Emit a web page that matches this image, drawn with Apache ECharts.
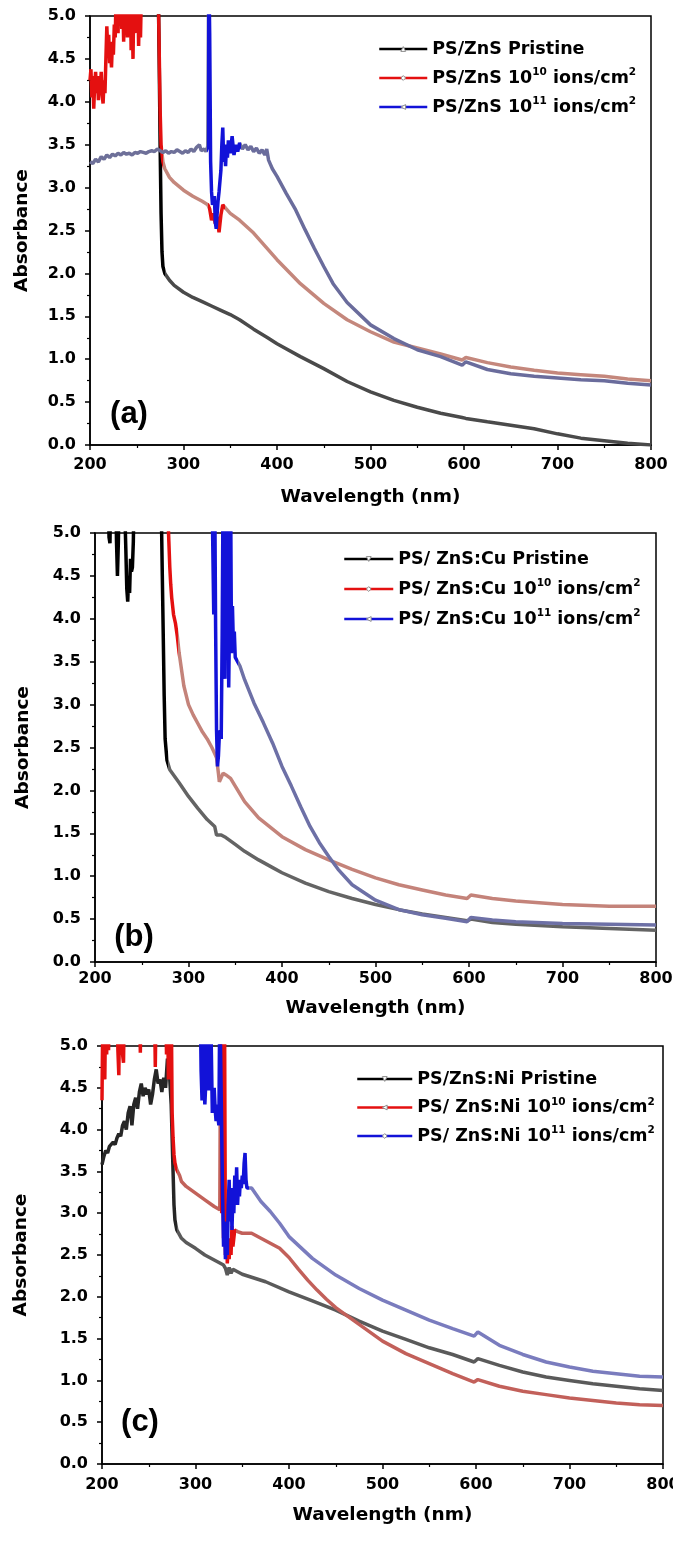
<!DOCTYPE html>
<html><head><meta charset="utf-8">
<script src="https://cdn.jsdelivr.net/npm/echarts@6/dist/echarts.min.js"></script>
<style>html,body{margin:0;padding:0;background:#fff}#c{width:673px;height:1546px}</style>
</head><body><div id="c"></div>
<script>
// ---------------- DATA ----------------
const panelTags = ['(a)', '(b)', '(c)'];
const xTicks = [200, 300, 400, 500, 600, 700, 800];
const yTicks = [0.0, 0.5, 1.0, 1.5, 2.0, 2.5, 3.0, 3.5, 4.0, 4.5, 5.0];

const namesA = ['PS/ZnS Pristine', 'PS/ZnS 10^{10} ions/cm^{2}', 'PS/ZnS 10^{11} ions/cm^{2}'];
const namesB = ['PS/ ZnS:Cu Pristine', 'PS/ ZnS:Cu 10^{10} ions/cm^{2}', 'PS/ ZnS:Cu 10^{11} ions/cm^{2}'];
const namesC = ['PS/ZnS:Ni Pristine', 'PS/ ZnS:Ni 10^{10} ions/cm^{2}', 'PS/ ZnS:Ni 10^{11} ions/cm^{2}'];

// Panel (a)  [wavelength nm, absorbance]
const aPristine = [[270,5.6],[273,5.3],[274,4.5],[275,3.5],[276,2.7],[277,2.25],[278,2.08],[280,2.0],[285,1.92],[290,1.86],
 [300,1.78],[310,1.72],[320,1.67],[330,1.62],[340,1.57],[350,1.52],[360,1.46],[375,1.35],[390,1.25],[400,1.18],
 [425,1.03],[450,0.89],[475,0.74],[500,0.62],[525,0.52],[550,0.44],[575,0.37],[598,0.32],[602,0.31],[625,0.27],
 [650,0.23],[675,0.19],[700,0.13],[725,0.08],[750,0.05],[775,0.02],[800,0.0]];
const aIon10 = [[200,4.25],[201,4.38],[202,4.05],[203,4.3],[204,3.92],[205,4.2],[206,4.35],[207,4.1],[208,4.3],[209,4.02],
 [210,4.28],[211,4.15],[212,4.35],[213,4.08],[214,3.98],[215,4.25],[216,4.1],[217,4.5],[218,4.88],[219,4.6],
 [220,4.78],[221,4.45],[222,4.6],[223,4.4],[224,4.7],[225,4.55],[226,4.9],[227,4.75],[228,5.3],[229,5.2],
 [230,4.8],[231,5.3],[232,4.95],[233,5.4],[234,4.85],[235,5.2],[236,4.7],[237,5.3],[238,4.95],[239,5.1],
 [240,4.75],[241,5.3],[242,4.9],[243,5.4],[244,4.6],[245,5.2],[246,4.5],[247,5.3],[248,4.8],[249,5.2],
 [250,4.95],[251,5.4],[252,4.65],[253,5.2],[254,4.75],[255,5.3],[256,5.6],[260,5.6],[272,5.6],[273,5.3],
 [274,4.6],[275,3.9],[276,3.5],[278,3.3],[280,3.22],[285,3.12],[290,3.06],[300,2.97],[310,2.9],[320,2.84],
 [326,2.8],[328,2.75],[330,2.62],[332,2.7],[334,2.58],[336,2.66],[338,2.48],[340,2.68],[342,2.8],[345,2.76],
 [350,2.7],[360,2.62],[375,2.47],[400,2.16],[425,1.88],[450,1.65],[475,1.46],[500,1.32],[525,1.2],[550,1.13],
 [575,1.06],[598,0.99],[602,1.02],[625,0.96],[650,0.91],[675,0.87],[700,0.84],[725,0.82],[750,0.8],[775,0.77],[800,0.75]];
const aIon11 = [[200,3.3],[203,3.28],[206,3.33],[209,3.3],[212,3.36],[215,3.33],[218,3.38],[221,3.35],[224,3.39],[227,3.37],
 [230,3.4],[233,3.38],[236,3.41],[239,3.39],[242,3.4],[245,3.38],[248,3.41],[251,3.4],[254,3.42],[257,3.41],
 [260,3.4],[263,3.42],[266,3.43],[269,3.42],[272,3.45],[275,3.43],[278,3.41],[281,3.43],[284,3.4],[287,3.42],
 [290,3.41],[293,3.44],[296,3.42],[299,3.4],[302,3.43],[305,3.41],[308,3.45],[311,3.42],[314,3.47],[317,3.5],
 [319,3.43],[322,3.45],[324,3.42],[326,3.48],[327,5.6],[328,4.8],[329,3.3],[330,2.95],[331,2.8],[333,2.9],
 [334,2.6],[335,2.52],[336,2.7],[337,2.85],[338,2.95],[340,3.2],[341,3.5],[342,3.7],[343,3.3],[344,3.45],
 [345,3.25],[346,3.5],[347,3.35],[348,3.55],[350,3.4],[352,3.6],[354,3.38],[356,3.5],[358,3.42],[360,3.52],
 [363,3.45],[366,3.5],[369,3.44],[372,3.48],[375,3.42],[378,3.46],[381,3.4],[384,3.44],[387,3.38],[389,3.45],
 [391,3.32],[395,3.22],[400,3.13],[410,2.93],[420,2.74],[430,2.51],[440,2.29],[450,2.08],[460,1.88],[475,1.66],
 [500,1.4],[525,1.24],[550,1.11],[575,1.03],[598,0.93],[602,0.97],[625,0.88],[650,0.83],[675,0.8],[700,0.78],
 [725,0.76],[750,0.75],[775,0.72],[800,0.7]];

// Panel (b)
const bPristine = [[210,5.6],[214,5.6],[215,4.95],[216,4.88],[217,5.6],[222,5.6],[223,4.9],[224,4.5],[225,4.9],[226,5.6],
 [231,5.6],[233,4.8],[234,4.35],[235,4.2],[236,4.5],[237,4.3],[238,4.7],[239,4.55],[240,4.6],[241,4.9],
 [242,5.6],[270,5.6],[271,5.2],[272,4.5],[273,3.8],[274,3.1],[275,2.6],[277,2.35],[280,2.24],[290,2.09],
 [300,1.93],[310,1.79],[320,1.66],[328,1.58],[330,1.48],[332,1.5],[335,1.48],[340,1.45],[350,1.37],[360,1.29],
 [375,1.19],[390,1.1],[400,1.04],[425,0.92],[450,0.82],[475,0.74],[500,0.67],[525,0.61],[550,0.56],[575,0.52],
 [598,0.48],[602,0.5],[625,0.46],[650,0.44],[700,0.41],[750,0.39],[800,0.37]];
const bIon10 = [[276,5.6],[278,5.2],[279,4.9],[280,4.6],[281,4.4],[282,4.25],[283,4.15],[284,4.05],[285,4.0],[286,3.95],
 [288,3.8],[290,3.6],[295,3.22],[300,3.0],[305,2.88],[310,2.78],[315,2.68],[320,2.6],[325,2.5],[328,2.43],
 [330,2.38],[332,2.2],[333,2.1],[335,2.15],[337,2.2],[340,2.18],[342,2.2],[345,2.14],[350,2.05],[360,1.87],
 [375,1.68],[400,1.46],[425,1.31],[450,1.19],[475,1.08],[500,0.98],[525,0.9],[550,0.84],[575,0.78],[598,0.74],
 [602,0.78],[625,0.74],[650,0.71],[700,0.67],[750,0.65],[800,0.65]];
const bIon11 = [[325,5.6],[326,5.6],[327,4.05],[328,5.6],[329,3.9],[330,2.7],[331,2.28],[332,2.4],[333,2.65],[334,2.7],
 [335,2.6],[336,3.8],[337,5.6],[338,4.5],[339,3.3],[340,5.6],[341,3.9],[342,5.6],[343,3.2],[344,4.1],
 [345,5.6],[346,3.6],[347,4.15],[348,3.7],[349,3.85],[350,3.55],[352,3.55],[355,3.45],[360,3.29],[370,3.02],
 [380,2.79],[390,2.55],[400,2.28],[410,2.05],[420,1.81],[430,1.58],[440,1.39],[450,1.23],[460,1.08],[475,0.9],
 [500,0.72],[525,0.61],[550,0.55],[575,0.51],[598,0.47],[602,0.52],[625,0.49],[650,0.47],[700,0.45],[750,0.44],[800,0.43]];

// Panel (c)
const cPristine = [[200,3.58],[202,3.68],[204,3.75],[206,3.72],[208,3.8],[210,3.78],[212,3.85],[214,3.82],[216,3.9],[218,3.95],
 [220,3.92],[222,4.05],[224,4.1],[226,4.0],[228,4.2],[230,4.28],[232,4.05],[234,4.3],[236,4.38],[238,4.25],
 [240,4.45],[242,4.55],[244,4.4],[246,4.5],[248,4.42],[250,4.48],[252,4.3],[254,4.42],[256,4.6],[258,4.72],
 [260,4.55],[262,4.6],[264,4.45],[266,4.62],[268,4.5],[270,4.85],[272,4.7],[274,4.3],[275,3.9],[276,3.5],
 [277,3.1],[278,2.92],[280,2.8],[285,2.7],[290,2.65],[300,2.58],[310,2.5],[320,2.44],[330,2.38],[332,2.34],
 [334,2.26],[336,2.35],[338,2.28],[340,2.33],[345,2.3],[350,2.27],[375,2.18],[400,2.06],[425,1.95],[450,1.84],
 [475,1.71],[500,1.59],[525,1.49],[550,1.39],[575,1.31],[598,1.22],[602,1.26],[625,1.18],[650,1.1],[675,1.04],
 [700,1.0],[725,0.96],[750,0.93],[775,0.9],[800,0.88]];
const cIon10 = [[200,4.35],[201,5.6],[202,4.8],[203,4.6],[204,5.6],[205,4.9],[206,5.6],[207,4.95],[208,5.6],[216,5.6],
 [217,4.95],[218,4.65],[219,5.6],[221,5.6],[222,4.9],[223,4.8],[224,5.6],[240,5.6],[241,4.92],[242,5.6],
 [256,5.6],[257,4.75],[258,5.6],[268,5.6],[269,4.9],[270,5.6],[271,4.6],[272,5.6],[273,4.8],[274,5.6],
 [275,4.2],[276,3.9],[277,3.7],[278,3.6],[280,3.52],[283,3.45],[285,3.38],[290,3.32],[300,3.24],[310,3.16],
 [320,3.08],[326,3.04],[327,5.6],[328,3.0],[329,5.6],[330,2.7],[331,5.6],[332,2.5],[333,2.9],[334,2.4],
 [335,2.6],[336,2.45],[337,2.7],[338,2.5],[339,2.85],[340,2.6],[342,2.8],[345,2.78],[350,2.76],[360,2.76],
 [370,2.7],[380,2.64],[390,2.58],[400,2.47],[410,2.33],[420,2.2],[430,2.08],[440,1.97],[450,1.87],[460,1.79],
 [475,1.67],[500,1.47],[525,1.32],[550,1.2],[575,1.08],[598,0.98],[602,1.01],[625,0.93],[650,0.87],[675,0.83],
 [700,0.79],[725,0.76],[750,0.73],[775,0.71],[800,0.7]];
const cIon11 = [[300,5.6],[305,5.6],[306,4.7],[307,4.35],[308,5.6],[309,4.6],[310,4.3],[311,4.55],[312,5.6],[313,4.9],
 [314,4.47],[315,4.6],[316,5.6],[317,4.9],[318,4.2],[319,4.4],[320,4.5],[321,4.25],[322,4.1],[323,4.3],
 [324,4.15],[325,4.05],[326,5.6],[328,5.6],[329,3.2],[330,2.6],[331,2.9],[332,2.45],[333,2.7],[334,2.5],
 [335,3.1],[336,3.4],[337,2.9],[338,3.3],[339,2.8],[340,3.2],[341,3.0],[342,3.45],[343,3.2],[344,3.55],
 [345,3.1],[346,3.35],[347,3.2],[348,3.4],[349,3.3],[350,3.45],[351,3.35],[352,3.6],[353,3.72],[354,3.4],
 [355,3.3],[357,3.28],[360,3.3],[370,3.14],[380,3.02],[390,2.88],[400,2.72],[425,2.46],[450,2.26],[475,2.1],
 [500,1.96],[525,1.84],[550,1.72],[575,1.62],[598,1.53],[602,1.58],[625,1.42],[650,1.31],[675,1.22],[700,1.16],
 [725,1.11],[750,1.08],[775,1.05],[800,1.04]];

// ---------------- STYLE / LAYOUT ----------------
const FONT = 'DejaVu Sans';
const SAT = {k: '#000000', r: '#e41010', b: '#1212d8'};
const grids = [
  {left: 90, top: 16, width: 561, height: 429},
  {left: 95, top: 533, width: 561, height: 429},
  {left: 102, top: 1046, width: 561, height: 418}
];
const xLabelMargin = [12, 9, 13];
const xNameGap = [43, 37, 42];
const yNameGap = [58, 62, 71];
const legendPos = [
  {left: 378, top: 40, itemWidth: 48, itemGap: 9},
  {left: 343, top: 550, itemWidth: 49, itemGap: 10},
  {left: 356, top: 1070, itemWidth: 55, itemGap: 8.5}
];
const tagPos = [[129, 414], [134, 937], [140, 1422]];

// colour bands along wavelength: [upper wavelength bound, colour]
const bands = [
  [[280, SAT.k], [800, '#4a4a4a']],
  [[278, SAT.r], [326, '#c4877c'], [344, SAT.r], [800, '#c4877c']],
  [[325, '#6e7099'], [362, SAT.b], [800, '#6a6c9c']],
  [[278, SAT.k], [800, '#646464']],
  [[289, SAT.r], [800, '#c4837a']],
  [[353, SAT.b], [800, '#6d70a6']],
  [[280, '#262626'], [800, '#5a5a5a']],
  [[280, SAT.r], [326, '#c2625a'], [343, SAT.r], [800, '#c2605a']],
  [[357, SAT.b], [800, '#7a7cbe']]
];

const TRI_LEFT = 'path://M10,0L0,5L10,10Z';
const TRI_DOWN = 'path://M0,0L10,0L5,10Z';
const legendColors = [SAT.k, SAT.r, SAT.b];
const LW = 3.5;

function richName(n) {
  return n.split(/\^\{(.*?)\}/).map((p, i) => p === '' ? '' : (i % 2 ? '{s|' + p + '}' : '{t|' + p + '}')).join('');
}

function line(name, data, gi, symbol, color) {
  return {type: 'line', name, data, xAxisIndex: gi, yAxisIndex: gi,
    symbol, symbolSize: 6, showSymbol: false, color, clip: true, animation: false,
    lineStyle: {width: LW, color}, emphasis: {disabled: true}};
}
const series = [
  line(namesA[0], aPristine, 0, 'triangle', SAT.k),
  line(namesA[1], aIon10, 0, 'diamond', SAT.r),
  line(namesA[2], aIon11, 0, TRI_LEFT, SAT.b),
  line(namesB[0], bPristine, 1, TRI_DOWN, SAT.k),
  line(namesB[1], bIon10, 1, 'diamond', SAT.r),
  line(namesB[2], bIon11, 1, TRI_LEFT, SAT.b),
  line(namesC[0], cPristine, 2, TRI_DOWN, SAT.k),
  line(namesC[1], cIon10, 2, TRI_LEFT, SAT.r),
  line(namesC[2], cIon11, 2, 'diamond', SAT.b)
];

const axisText = {fontFamily: FONT, fontWeight: 'bold', fontSize: 16, color: '#000'};
const nameText = {fontFamily: FONT, fontWeight: 'bold', fontSize: 18.5, color: '#000'};
const xAxis = grids.map((g, i) => ({
  type: 'value', gridIndex: i, min: xTicks[0], max: xTicks[xTicks.length - 1], interval: xTicks[1] - xTicks[0],
  name: 'Wavelength (nm)', nameLocation: 'middle', nameGap: xNameGap[i], nameTextStyle: nameText,
  axisLine: {show: true, onZero: false, lineStyle: {color: '#000', width: 1.5}},
  axisTick: {show: true, inside: false, length: 5, lineStyle: {color: '#000', width: 1.5}},
  minorTick: {show: true, splitNumber: 2, length: 3, lineStyle: {color: '#000', width: 1.2}},
  axisLabel: Object.assign({margin: xLabelMargin[i], showMinLabel: true, showMaxLabel: true, hideOverlap: false}, axisText),
  splitLine: {show: false}
}));
const yAxis = grids.map((g, i) => ({
  type: 'value', gridIndex: i, min: yTicks[0], max: yTicks[yTicks.length - 1], interval: yTicks[1] - yTicks[0],
  name: 'Absorbance', nameLocation: 'middle', nameGap: yNameGap[i], nameTextStyle: nameText,
  axisLine: {show: true, onZero: false, lineStyle: {color: '#000', width: 1.5}},
  axisTick: {show: true, inside: false, length: 5, lineStyle: {color: '#000', width: 1.5}},
  minorTick: {show: true, splitNumber: 2, length: 3, lineStyle: {color: '#000', width: 1.2}},
  axisLabel: Object.assign({margin: 14, formatter: v => v.toFixed(1)}, axisText),
  splitLine: {show: false}
}));

const legendNames = [namesA, namesB, namesC];
const legend = legendPos.map((p, i) => ({
  orient: 'vertical', left: p.left, top: p.top, itemWidth: p.itemWidth, itemHeight: 6, itemGap: p.itemGap,
  selectedMode: false, padding: 0,
  data: legendNames[i].map((n, j) => ({name: n, lineStyle: {color: legendColors[j], width: 2.5},
    itemStyle: {color: '#ffffff', borderColor: '#8c8c8c', borderWidth: 1}})),
  formatter: n => richName(n),
  textStyle: {
    color: '#000', fontFamily: FONT, fontWeight: 'bold', fontSize: 17.5,
    rich: {
      t: {fontFamily: FONT, fontWeight: 'bold', fontSize: 17.5, lineHeight: 22, color: '#000'},
      s: {fontFamily: FONT, fontWeight: 'bold', fontSize: 10.5, lineHeight: 10, verticalAlign: 'top', color: '#000'}
    }
  }
}));

const graphic = tagPos.map((p, i) => ({
  type: 'text', x: p[0], y: p[1], z: 100,
  style: {text: panelTags[i], fontFamily: 'Liberation Sans', fontWeight: 'bold', fontSize: 31, fill: '#000',
    align: 'center', verticalAlign: 'middle', textAlign: 'center', textVerticalAlign: 'middle'}
}));

const chart = echarts.init(document.getElementById('c'), null, {renderer: 'canvas'});
chart.setOption({
  backgroundColor: '#ffffff',
  animation: false,
  grid: grids.map(g => Object.assign({show: true, borderColor: '#000', borderWidth: 1.5, backgroundColor: 'transparent',
    containLabel: false, outerBoundsMode: 'none'}, g)),
  xAxis, yAxis, legend, series, graphic
});

// colour each curve along wavelength with a hard-stop gradient positioned through the axis scale
function bandGradient(gi, bandList) {
  const px = v => chart.convertToPixel({gridIndex: gi}, [v, 0])[0];
  const x0 = px(xTicks[0]), x1 = px(xTicks[xTicks.length - 1]);
  const stops = [];
  let from = xTicks[0];
  bandList.forEach(([to, color]) => {
    stops.push({offset: (px(from) - x0) / (x1 - x0), color});
    stops.push({offset: (px(to) - x0) / (x1 - x0), color});
    from = to;
  });
  return new echarts.graphic.LinearGradient(x0, 0, x1, 0, stops, true);
}
chart.setOption({
  series: series.map((s, i) => ({lineStyle: {width: LW, color: bandGradient(s.xAxisIndex, bands[i])}}))
});
</script></body></html>
